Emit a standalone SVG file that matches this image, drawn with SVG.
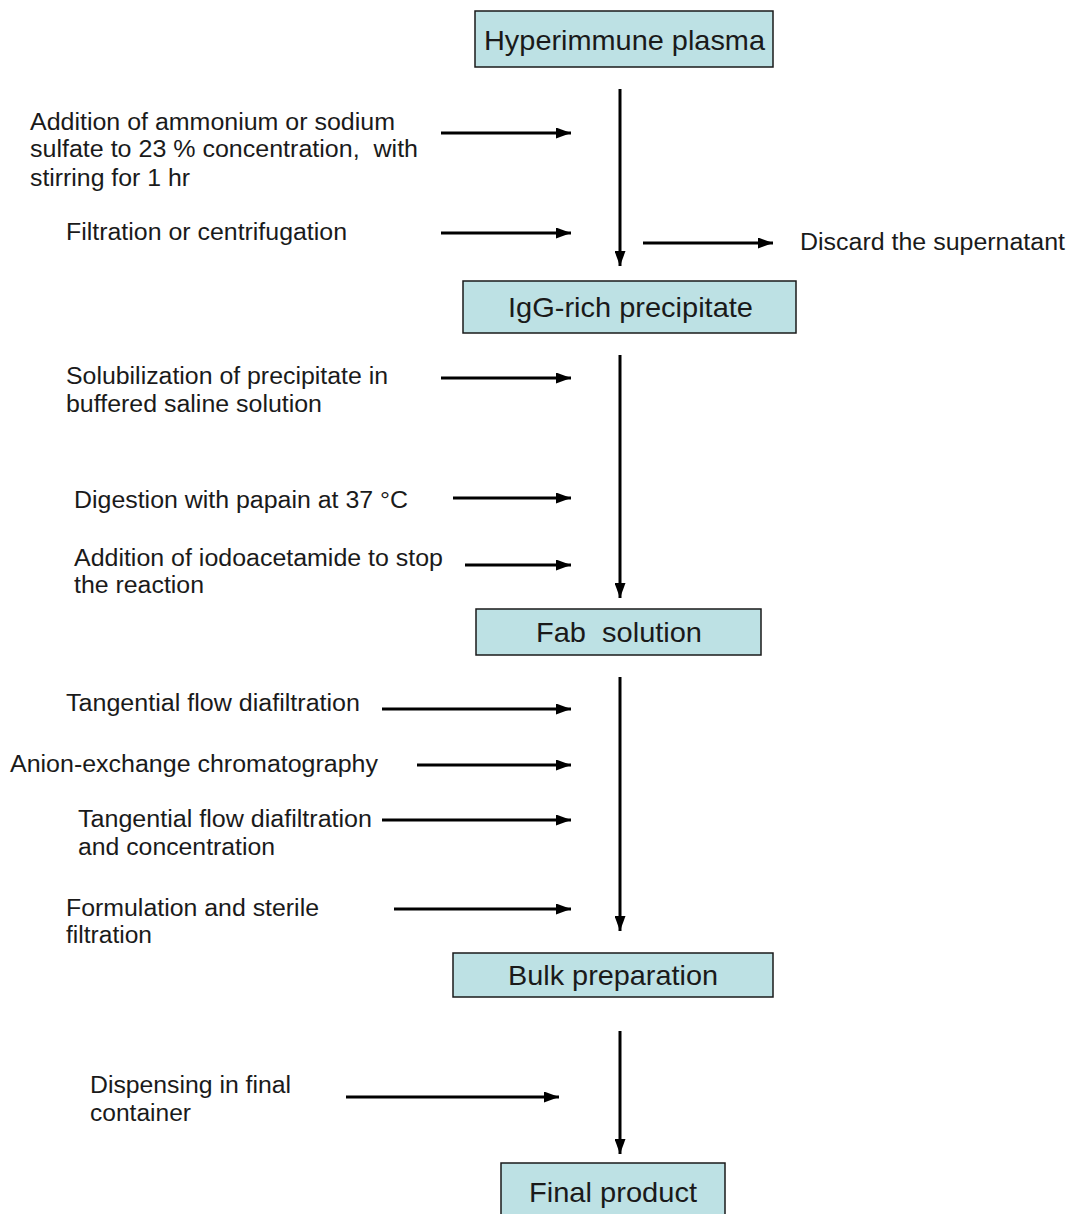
<svg xmlns="http://www.w3.org/2000/svg" width="1070" height="1214" viewBox="0 0 1070 1214">
<style>
.box{fill:#bde1e4;stroke:#1a1a1a;stroke-width:1.5}
.bt{font-family:"Liberation Sans",Arial,sans-serif;font-size:28.5px;fill:#1a1a1a;text-anchor:middle;white-space:pre}
.lt{font-family:"Liberation Sans",Arial,sans-serif;font-size:23px;fill:#1a1a1a;white-space:pre}
.ar{stroke:#000;stroke-width:3;fill:none;marker-end:url(#ah)}
</style>
<defs>
<marker id="ah" markerUnits="userSpaceOnUse" markerWidth="15" markerHeight="11" refX="15" refY="5.5" orient="auto">
<path d="M0,0 L15,5.5 L0,11 Z" fill="#000"/>
</marker>
</defs>
<rect width="1070" height="1214" fill="#fff"/>
<g id="n1"><rect class="box" x="475" y="11" width="298" height="56"/><text class="bt" x="624.5" y="50" textLength="281" lengthAdjust="spacingAndGlyphs">Hyperimmune plasma</text></g>
<g id="n2"><rect class="box" x="463" y="281" width="333" height="52"/><text class="bt" x="630.5" y="317" textLength="245" lengthAdjust="spacingAndGlyphs">IgG-rich precipitate</text></g>
<g id="n3"><rect class="box" x="476" y="609" width="285" height="46"/><text class="bt" x="619" y="642" textLength="166" lengthAdjust="spacingAndGlyphs" xml:space="preserve">Fab  solution</text></g>
<g id="n4"><rect class="box" x="453" y="953" width="320" height="44"/><text class="bt" x="613" y="985" textLength="210" lengthAdjust="spacingAndGlyphs">Bulk preparation</text></g>
<g id="n5"><rect class="box" x="501" y="1163" width="224" height="60"/><text class="bt" x="613" y="1202" textLength="168" lengthAdjust="spacingAndGlyphs">Final product</text></g>
<g id="labels">
<text class="lt" x="30" y="130" textLength="365" lengthAdjust="spacingAndGlyphs">Addition of ammonium or sodium</text>
<text class="lt" x="30" y="157" textLength="388" lengthAdjust="spacingAndGlyphs" xml:space="preserve">sulfate to 23 % concentration,  with</text>
<text class="lt" x="30" y="186" textLength="160" lengthAdjust="spacingAndGlyphs">stirring for 1 hr</text>
<text class="lt" x="66" y="240" textLength="281" lengthAdjust="spacingAndGlyphs">Filtration or centrifugation</text>
<text class="lt" x="800" y="250" textLength="265" lengthAdjust="spacingAndGlyphs">Discard the supernatant</text>
<text class="lt" x="66" y="384" textLength="322" lengthAdjust="spacingAndGlyphs">Solubilization of precipitate in</text>
<text class="lt" x="66" y="412" textLength="256" lengthAdjust="spacingAndGlyphs">buffered saline solution</text>
<text class="lt" x="74" y="508" textLength="334" lengthAdjust="spacingAndGlyphs">Digestion with papain at 37 °C</text>
<text class="lt" x="74" y="566" textLength="369" lengthAdjust="spacingAndGlyphs">Addition of iodoacetamide to stop</text>
<text class="lt" x="74" y="593" textLength="130" lengthAdjust="spacingAndGlyphs">the reaction</text>
<text class="lt" x="66" y="711" textLength="294" lengthAdjust="spacingAndGlyphs">Tangential flow diafiltration</text>
<text class="lt" x="10" y="772" textLength="368" lengthAdjust="spacingAndGlyphs">Anion-exchange chromatography</text>
<text class="lt" x="78" y="827" textLength="294" lengthAdjust="spacingAndGlyphs">Tangential flow diafiltration</text>
<text class="lt" x="78" y="855" textLength="197" lengthAdjust="spacingAndGlyphs">and concentration</text>
<text class="lt" x="66" y="916" textLength="253" lengthAdjust="spacingAndGlyphs">Formulation and sterile</text>
<text class="lt" x="66" y="943" textLength="86" lengthAdjust="spacingAndGlyphs">filtration</text>
<text class="lt" x="90" y="1093" textLength="201" lengthAdjust="spacingAndGlyphs">Dispensing in final</text>
<text class="lt" x="90" y="1121" textLength="101" lengthAdjust="spacingAndGlyphs">container</text>
</g>
<g id="connectors">
<line class="ar" x1="620" y1="89" x2="620" y2="266"/>
<line class="ar" x1="620" y1="355" x2="620" y2="598"/>
<line class="ar" x1="620" y1="677" x2="620" y2="931"/>
<line class="ar" x1="620" y1="1031" x2="620" y2="1154"/>
<line class="ar" x1="441" y1="133" x2="571" y2="133"/>
<line class="ar" x1="441" y1="233" x2="571" y2="233"/>
<line class="ar" x1="643" y1="243" x2="773" y2="243"/>
<line class="ar" x1="441" y1="378" x2="571" y2="378"/>
<line class="ar" x1="453" y1="498" x2="571" y2="498"/>
<line class="ar" x1="465" y1="565" x2="571" y2="565"/>
<line class="ar" x1="382" y1="709" x2="571" y2="709"/>
<line class="ar" x1="417" y1="765" x2="571" y2="765"/>
<line class="ar" x1="382" y1="820" x2="571" y2="820"/>
<line class="ar" x1="394" y1="909" x2="571" y2="909"/>
<line class="ar" x1="346" y1="1097" x2="559" y2="1097"/>
</g>
</svg>
